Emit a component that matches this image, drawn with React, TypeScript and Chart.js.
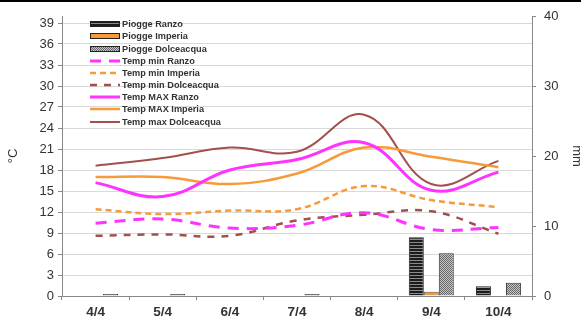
import React, { useEffect, useRef } from 'react';
import { Chart, registerables } from 'chart.js';
Chart.register(...registerables);

const labels = ['4/4', '5/4', '6/4', '7/4', '8/4', '9/4', '10/4'];
const pioggeRanzo = [0, 0, 0, 0, 0, 8.4, 1.4];
const pioggeImperia = [0, 0, 0, 0, 0, 0.6, 0];
const pioggeDolceacqua = [0.3, 0.3, 0, 0.3, 0, 6.1, 1.9];
const tempMinRanzo = [10.4, 11.0, 9.7, 10.1, 11.9, 9.5, 9.8];
const tempMinImperia = [12.4, 11.7, 12.2, 12.4, 15.7, 13.7, 12.7];
const tempMinDolceacqua = [8.6, 8.8, 8.6, 10.8, 11.6, 12.1, 8.9];
const tempMaxRanzo = [16.2, 14.2, 18.0, 19.5, 21.9, 15.1, 17.7];
const tempMaxImperia = [17.0, 17.0, 16.0, 17.5, 21.2, 19.9, 18.4];
const tempMaxDolceacqua = [18.6, 19.7, 21.2, 20.6, 25.9, 16.0, 19.3];
const leftTicks = [0, 3, 6, 9, 12, 15, 18, 21, 24, 27, 30, 33, 36, 39];

const MAGENTA = '#ff33ff';
const ORANGE = '#f79a3a';
const BROWN = '#a0514c';
const FONT = "'Liberation Sans', Arial, sans-serif";

function makePattern(kind: string): CanvasPattern | string {
  const c = document.createElement('canvas');
  const g = c.getContext('2d');
  if (!g) return '#888';
  if (kind === 'stripes') {
    c.width = 4; c.height = 3;
    g.fillStyle = '#1c1c1c'; g.fillRect(0, 0, 4, 3);
    g.fillStyle = '#8c8c8c'; g.fillRect(0, 2, 4, 1);
  } else {
    c.width = 2; c.height = 2;
    g.fillStyle = '#c4c4c4'; g.fillRect(0, 0, 2, 2);
    g.fillStyle = '#6a6a6a'; g.fillRect(0, 0, 1, 1); g.fillRect(1, 1, 1, 1);
  }
  return g.createPattern(c, 'repeat') || '#888';
}

export default function App() {
  const ref = useRef<HTMLCanvasElement>(null);
  useEffect(() => {
    const canvas = ref.current!;
    const stripes = makePattern('stripes');
    const checker = makePattern('checker');

    const legendPlugin = {
      id: 'customLegend',
      afterDraw(chart: any) {
        const ctx = chart.ctx;
        ctx.save();
        chart.data.datasets.forEach((ds: any, i: number) => {
          const y = Math.round(24.3 + i * 12.17);
          const x0 = 90, x1 = 120;
          if (ds.type === 'bar') {
            ctx.fillStyle = ds.backgroundColor;
            ctx.fillRect(x0, y - 2, x1 - x0, 4);
            ctx.strokeStyle = '#222';
            ctx.lineWidth = 1;
            ctx.strokeRect(x0 + 0.5, y - 2.5, x1 - x0 - 1, 5);
          } else {
            ctx.strokeStyle = ds.borderColor;
            ctx.lineWidth = ds.borderWidth;
            ctx.setLineDash(ds.borderDash || []);
            ctx.beginPath();
            ctx.moveTo(x0, y);
            ctx.lineTo(x1, y);
            ctx.stroke();
            ctx.setLineDash([]);
          }
          ctx.fillStyle = '#333';
          ctx.font = `bold 9.2px ${FONT}`;
          ctx.textBaseline = 'middle';
          ctx.textAlign = 'left';
          ctx.fillText(ds.label, 122, y + 0.5);
        });
        ctx.restore();
      },
    };

    const lineDs = (label: string, data: number[], color: string, width: number, dash: number[]) => ({
      type: 'line' as const,
      label,
      data,
      yAxisID: 'y',
      borderColor: color,
      backgroundColor: color,
      borderWidth: width,
      borderDash: dash,
      pointRadius: 0,
      tension: 0.4,
      fill: false,
      order: 1,
    });

    const chart = new Chart(canvas, {
      type: 'bar',
      data: {
        labels,
        datasets: [
          { type: 'bar', label: 'Piogge Ranzo', data: pioggeRanzo, yAxisID: 'y1', backgroundColor: stripes as any, borderColor: '#222', borderWidth: 1, order: 2 },
          { type: 'bar', label: 'Piogge Imperia', data: pioggeImperia, yAxisID: 'y1', backgroundColor: ORANGE, borderColor: '#555', borderWidth: 1, order: 2 },
          { type: 'bar', label: 'Piogge Dolceacqua', data: pioggeDolceacqua, yAxisID: 'y1', backgroundColor: checker as any, borderColor: '#333', borderWidth: 1, order: 2 },
          lineDs('Temp min Ranzo', tempMinRanzo, MAGENTA, 3, [11, 8]),
          lineDs('Temp min Imperia', tempMinImperia, ORANGE, 2.5, [6, 4]),
          lineDs('Temp min Dolceacqua', tempMinDolceacqua, BROWN, 2.5, [7, 7]),
          lineDs('Temp MAX Ranzo', tempMaxRanzo, MAGENTA, 3, []),
          lineDs('Temp MAX Imperia', tempMaxImperia, ORANGE, 2.5, []),
          lineDs('Temp max Dolceacqua', tempMaxDolceacqua, BROWN, 2, []),
        ] as any,
      },
      options: {
        responsive: false,
        animation: false,
        layout: { padding: { top: 16, left: 0, right: 0, bottom: 0 } },
        plugins: { legend: { display: false }, tooltip: { enabled: false } },
        datasets: { bar: { barPercentage: 1, categoryPercentage: 0.67 } },
        scales: {
          x: {
            offset: true,
            grid: { offset: true, drawOnChartArea: false, tickLength: 4, tickColor: '#888' },
            border: { color: '#888' },
            ticks: { font: { family: FONT, size: 13.5, weight: 'bold' }, color: '#333', padding: 4, maxRotation: 0 },
            afterFit(s: any) { s.height = 22; },
          },
          y: {
            position: 'left',
            min: 0,
            max: 40,
            ticks: { stepSize: 3, font: { family: FONT, size: 13 }, color: '#333', padding: 4 },
            afterBuildTicks(s: any) { s.ticks = leftTicks.map((v) => ({ value: v })); },
            grid: {
              color: (c: any) => (c.tick && c.tick.value === 0 ? 'rgba(0,0,0,0)' : '#d9d9d9'),
              tickColor: '#888',
              tickLength: 4,
            },
            border: { color: '#888' },
            title: { display: true, text: '°C', font: { family: FONT, size: 13 }, color: '#333', padding: { top: 6, bottom: 0 } },
            afterFit(s: any) { s.width = 62; },
          },
          y1: {
            position: 'right',
            min: 0,
            max: 40,
            ticks: { stepSize: 10, font: { family: FONT, size: 13 }, color: '#333', padding: 8 },
            grid: { drawOnChartArea: false, tickLength: 4, tickColor: '#888' },
            border: { color: '#888' },
            title: { display: true, text: 'mm', font: { family: FONT, size: 13, lineHeight: 1 }, color: '#333', padding: { top: -2, bottom: 0 } },
            afterFit(s: any) { s.width = 49; },
          },
        },
      } as any,
      plugins: [legendPlugin],
    });
    return () => chart.destroy();
  }, []);

  return (
    <div style={{ position: 'fixed', left: 0, top: 0, width: 581, height: 318, background: '#fff' }}>
      <canvas ref={ref} width={581} height={318} style={{ display: 'block', width: 581, height: 318 }} />
      <div style={{ position: 'absolute', left: 0, top: 0, width: 581, height: 2, background: '#000' }} />
    </div>
  );
}
